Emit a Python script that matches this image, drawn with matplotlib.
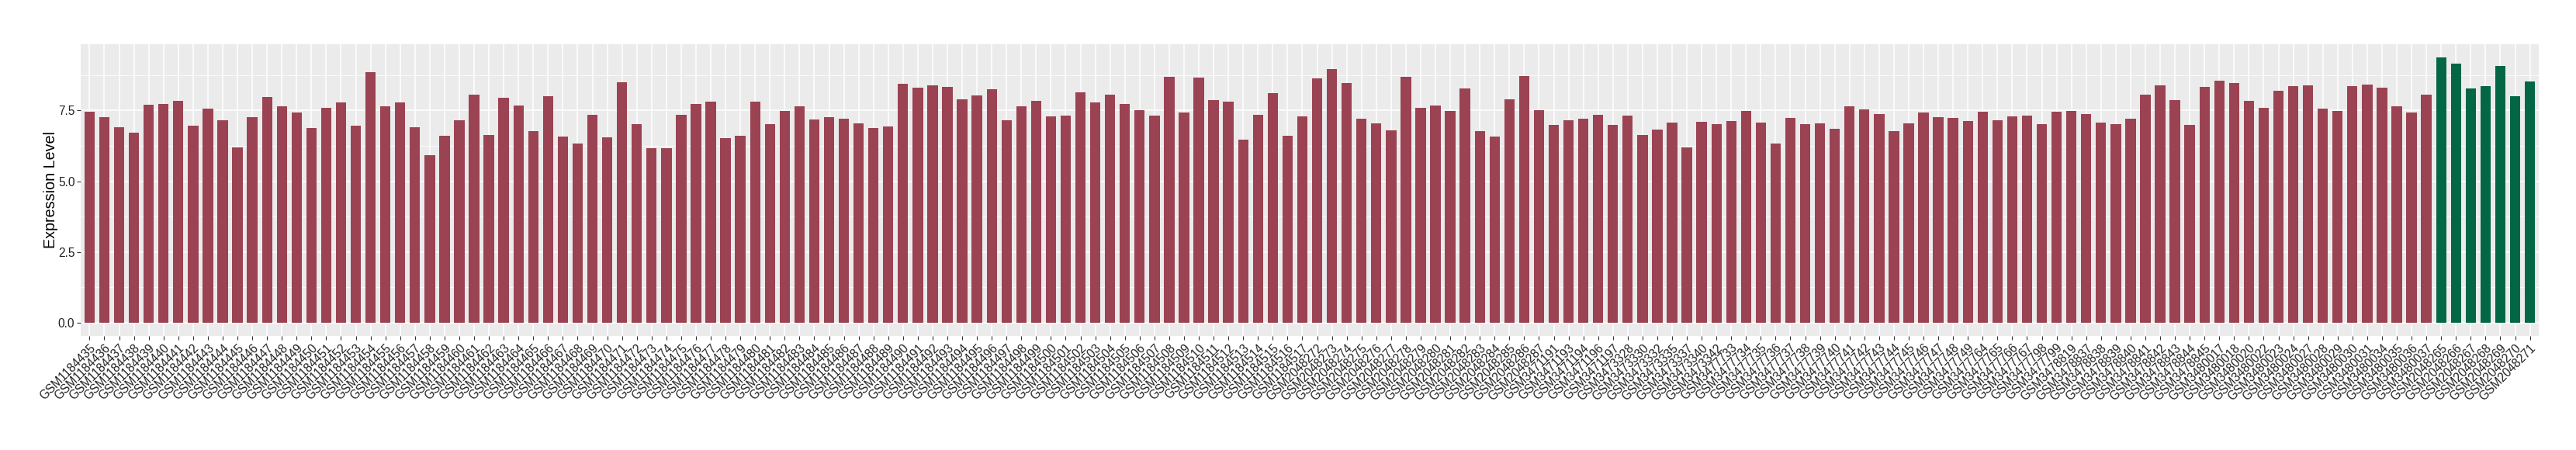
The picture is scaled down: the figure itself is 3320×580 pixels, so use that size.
import matplotlib
matplotlib.use("Agg")
import matplotlib.pyplot as plt
from matplotlib.ticker import MultipleLocator

plt.rcParams['font.family'] = ['Liberation Sans', 'DejaVu Sans']

sample_ids = [
    "GSM1184435", "GSM1184436", "GSM1184437", "GSM1184438", "GSM1184439", "GSM1184440",
    "GSM1184441", "GSM1184442", "GSM1184443", "GSM1184444", "GSM1184445", "GSM1184446",
    "GSM1184447", "GSM1184448", "GSM1184449", "GSM1184450", "GSM1184451", "GSM1184452",
    "GSM1184453", "GSM1184454", "GSM1184455", "GSM1184456", "GSM1184457", "GSM1184458",
    "GSM1184459", "GSM1184460", "GSM1184461", "GSM1184462", "GSM1184463", "GSM1184464",
    "GSM1184465", "GSM1184466", "GSM1184467", "GSM1184468", "GSM1184469", "GSM1184470",
    "GSM1184471", "GSM1184472", "GSM1184473", "GSM1184474", "GSM1184475", "GSM1184476",
    "GSM1184477", "GSM1184478", "GSM1184479", "GSM1184480", "GSM1184481", "GSM1184482",
    "GSM1184483", "GSM1184484", "GSM1184485", "GSM1184486", "GSM1184487", "GSM1184488",
    "GSM1184489", "GSM1184490", "GSM1184491", "GSM1184492", "GSM1184493", "GSM1184494",
    "GSM1184495", "GSM1184496", "GSM1184497", "GSM1184498", "GSM1184499", "GSM1184500",
    "GSM1184501", "GSM1184502", "GSM1184503", "GSM1184504", "GSM1184505", "GSM1184506",
    "GSM1184507", "GSM1184508", "GSM1184509", "GSM1184510", "GSM1184511", "GSM1184512",
    "GSM1184513", "GSM1184514", "GSM1184515", "GSM1184516", "GSM1184517",
    "GSM2048272", "GSM2048273", "GSM2048274", "GSM2048275", "GSM2048276", "GSM2048277",
    "GSM2048278", "GSM2048279", "GSM2048280", "GSM2048281", "GSM2048282", "GSM2048283",
    "GSM2048284", "GSM2048285", "GSM2048286", "GSM2048287",
    "GSM3471191", "GSM3471193", "GSM3471194", "GSM3471196", "GSM3471197",
    "GSM3473328", "GSM3473330", "GSM3473332", "GSM3473335", "GSM3473337", "GSM3473340",
    "GSM3473342",
    "GSM3477733", "GSM3477734", "GSM3477735", "GSM3477736", "GSM3477737", "GSM3477738",
    "GSM3477739", "GSM3477740", "GSM3477741", "GSM3477742", "GSM3477743", "GSM3477744",
    "GSM3477745", "GSM3477746", "GSM3477747", "GSM3477748", "GSM3477749",
    "GSM3477764", "GSM3477765", "GSM3477766", "GSM3477767", "GSM3477798", "GSM3477799",
    "GSM3478819", "GSM3478837", "GSM3478838", "GSM3478839", "GSM3478840", "GSM3478841",
    "GSM3478842", "GSM3478843", "GSM3478844", "GSM3478845",
    "GSM3480017", "GSM3480018", "GSM3480020", "GSM3480022", "GSM3480023", "GSM3480024",
    "GSM3480027", "GSM3480028", "GSM3480029", "GSM3480030", "GSM3480031", "GSM3480034",
    "GSM3480035", "GSM3480036", "GSM3480037",
    "GSM2048265", "GSM2048266", "GSM2048267", "GSM2048268", "GSM2048269", "GSM2048270",
    "GSM2048271",
]

expression = [
    7.46, 7.27, 6.91, 6.72, 7.70, 7.73, 7.84, 6.96, 7.57, 7.16, 6.19, 7.27, 7.98,
    7.65, 7.43, 6.88, 7.59, 7.78, 6.96, 8.86, 7.65, 7.78, 6.91, 5.92, 6.61, 7.16,
    8.06, 6.64, 7.95, 7.67, 6.77, 8.01, 6.58, 6.33, 7.35, 6.55, 8.49, 7.01, 6.17,
    6.17, 7.35, 7.73, 7.81, 6.53, 6.61, 7.81, 7.01, 7.48, 7.65, 7.19, 7.27, 7.21,
    7.04, 6.88, 6.93,
    8.44, 8.31, 8.39, 8.33, 7.90, 8.03, 8.25, 7.16, 7.65, 7.84, 7.29, 7.32, 8.14,
    7.78, 8.06, 7.73, 7.51, 7.32, 8.69, 7.43, 8.67, 7.86, 7.81, 6.47, 7.35, 8.12,
    6.61, 7.29,
    8.63, 8.96, 8.47, 7.21, 7.04, 6.80, 8.69, 7.59, 7.67, 7.48, 8.28, 6.77, 6.58,
    7.90, 8.72, 7.51,
    6.99, 7.16, 7.21, 7.35, 6.99, 7.32, 6.64, 6.83, 7.07, 6.19, 7.10, 7.01,
    7.12, 7.48, 7.07, 6.33, 7.24, 7.01, 7.04, 6.85, 7.65, 7.54, 7.38, 6.77, 7.04,
    7.43, 7.27, 7.24, 7.12,
    7.46, 7.16, 7.29, 7.32, 7.01, 7.46,
    7.48, 7.38, 7.07, 7.01, 7.21, 8.06, 8.39, 7.86, 6.99, 8.33,
    8.55, 8.47, 7.84, 7.59, 8.20, 8.36, 8.39, 7.57, 7.48, 8.36, 8.41, 8.31, 7.65,
    7.43, 8.06,
    9.37, 9.15, 8.28, 8.36, 9.07, 8.01, 8.52,
]

groups = ["other"] * 159 + ["highlight"] * 7
group_colors = {"other": "#9B4352", "highlight": "#036645"}

y_ticks = [0.0, 2.5, 5.0, 7.5]
y_label = "Expression Level"

W, H = 3320, 580
fig = plt.figure(figsize=(W / 100, H / 100), dpi=100)
left, right, top, bottom = 104, 3272, 57, 433
ax = fig.add_axes([left / W, 1 - bottom / H, (right - left) / W, (bottom - top) / H])
ax.set_facecolor("#EBEBEB")

x = list(range(len(sample_ids)))
colors = [group_colors[g] for g in groups]
ax.bar(x, expression, width=0.7, color=colors, zorder=3)

ymax = max(expression)
pad = 0.05 * ymax
ax.set_ylim(-pad, ymax + pad)
ax.set_xlim(-0.6, len(x) - 1 + 0.6)

ax.set_yticks(y_ticks)
ax.set_yticklabels([f"{v:.1f}" for v in y_ticks])
ax.yaxis.set_minor_locator(MultipleLocator(1.25))
ax.set_xticks(x)
ax.set_xticklabels(sample_ids, rotation=45, ha="right", va="top",
                   rotation_mode="anchor")

ax.grid(which="major", color="white", linewidth=1.1, zorder=0)
ax.grid(which="minor", axis="y", color="white", linewidth=0.55, zorder=0)
ax.set_axisbelow(True)
for s in ax.spines.values():
    s.set_visible(False)

ax.tick_params(axis="both", which="major", length=3.5, width=0.8, color="#333333",
               labelsize=11.2, labelcolor="#222222", pad=2)
ax.tick_params(axis="y", which="minor", length=0)
ax.set_ylabel(y_label, fontsize=14.2, color="black", va="center")
ax.yaxis.set_label_coords((65 - left) / (right - left), 0.5)

fig.savefig("out.png", dpi=100)
